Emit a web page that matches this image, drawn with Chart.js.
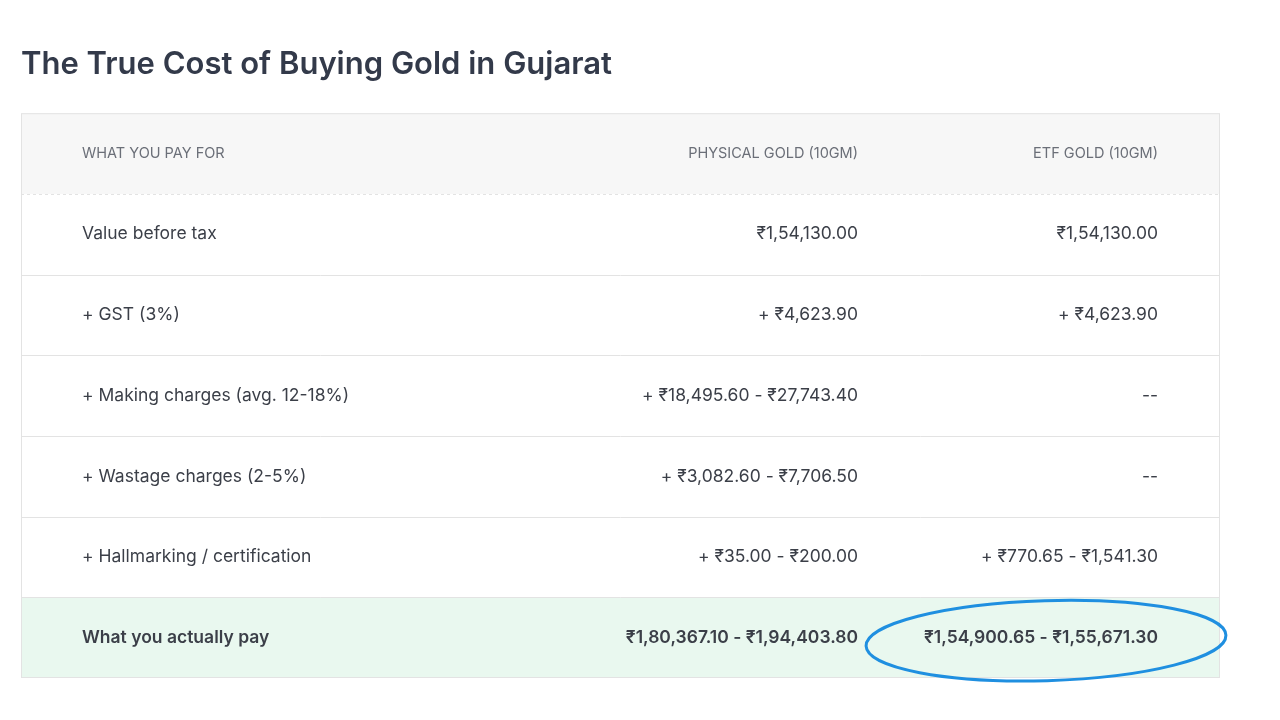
<!DOCTYPE html>
<html><head><meta charset="utf-8">
<script src="https://cdn.jsdelivr.net/npm/chart.js@4"></script>
<style>html,body{margin:0;background:#fff}#w{width:1280px;height:720px}</style>
</head><body><div id="w"><canvas id="c"></canvas></div>
<script>
const titleText = "The True Cost of Buying Gold in Gujarat";
const headers = ["WHAT YOU PAY FOR", "PHYSICAL GOLD (10GM)", "ETF GOLD (10GM)"];
const items = ["Value before tax", "+ GST (3%)", "+ Making charges (avg. 12-18%)", "+ Wastage charges (2-5%)", "+ Hallmarking / certification", "What you actually pay"];
const physical = ["₹1,54,130.00", "+ ₹4,623.90", "+ ₹18,495.60 - ₹27,743.40", "+ ₹3,082.60 - ₹7,706.50", "+ ₹35.00 - ₹200.00", "₹1,80,367.10 - ₹1,94,403.80"];
const etf = ["₹1,54,130.00", "+ ₹4,623.90", "--", "--", "+ ₹770.65 - ₹1,541.30", "₹1,54,900.65 - ₹1,55,671.30"];
const columnAnchors = [0, 776, 1076];
const rowLabels = ["header", ...items];
const FONT = "Inter, 'DejaVu Sans', sans-serif";

const tablePlugin = {
  id: 'table',
  beforeDatasetsDraw(chart) {
    const {ctx, chartArea: a, scales: {x, y}} = chart;
    const n = rowLabels.length;
    const edge = i => i === 0 ? a.top : i === n ? a.bottom : (y.getPixelForValue(i - 1) + y.getPixelForValue(i)) / 2;
    ctx.save();
    ctx.fillStyle = '#f7f7f7'; ctx.fillRect(a.left, edge(0), a.width, edge(1) - edge(0));
    ctx.fillStyle = '#e9f8ef'; ctx.fillRect(a.left, edge(n - 1), a.width, edge(n) - edge(n - 1));
    ctx.strokeStyle = '#e3e3e3'; ctx.lineWidth = 1;
    ctx.strokeRect(a.left + .5, a.top + .5, a.width - 1, a.height - 1);
    for (let i = 1; i < n; i++) {
      ctx.setLineDash(i === 1 ? [3, 3] : []);
      ctx.beginPath(); ctx.moveTo(a.left, Math.round(edge(i)) + .5); ctx.lineTo(a.right, Math.round(edge(i)) + .5); ctx.stroke();
    }
    ctx.setLineDash([]);
    ctx.textBaseline = 'middle';
    const cx = columnAnchors.map(v => x.getPixelForValue(v));
    for (let i = 0; i < n; i++) {
      const yc = (edge(i) + edge(i + 1)) / 2;
      const cells = i === 0 ? headers : [items[i - 1], physical[i - 1], etf[i - 1]];
      cells.forEach((t, j) => {
        ctx.textAlign = j === 0 ? 'left' : 'right';
        if (i === 0) { ctx.font = '400 14.5px ' + FONT; ctx.fillStyle = '#6b6f78'; }
        else if (i === n - 1) { ctx.font = '600 17.5px ' + FONT; ctx.fillStyle = '#3b3f48'; }
        else { ctx.font = '400 17.5px ' + FONT; ctx.fillStyle = '#3b3f48'; }
        ctx.fillText(t, cx[j], yc);
      });
    }
    const yc = (edge(n - 1) + edge(n)) / 2;
    ctx.strokeStyle = '#1f8fe0'; ctx.lineWidth = 3;
    ctx.beginPath(); ctx.ellipse(1046, yc + 3, 180, 40, -0.03, 0, Math.PI * 2); ctx.stroke();
    ctx.restore();
  }
};

new Chart(document.getElementById('c'), {
  type: 'scatter',
  data: { labels: rowLabels, datasets: [{ data: [], showLine: false }] },
  options: {
    responsive: true, maintainAspectRatio: false, animation: false,
    layout: { padding: { left: 21, right: 60, top: 0, bottom: 42 } },
    plugins: {
      legend: { display: false }, tooltip: { enabled: false },
      title: { display: true, text: titleText, align: 'start', color: '#333a4a',
        font: { family: FONT, size: 31, weight: '600' }, padding: { top: 46, bottom: 30 } }
    },
    scales: {
      x: { type: 'linear', min: -61, max: 1138, display: false },
      y: { type: 'category', labels: rowLabels, offset: true, display: false }
    }
  },
  plugins: [tablePlugin]
});
</script></body></html>
